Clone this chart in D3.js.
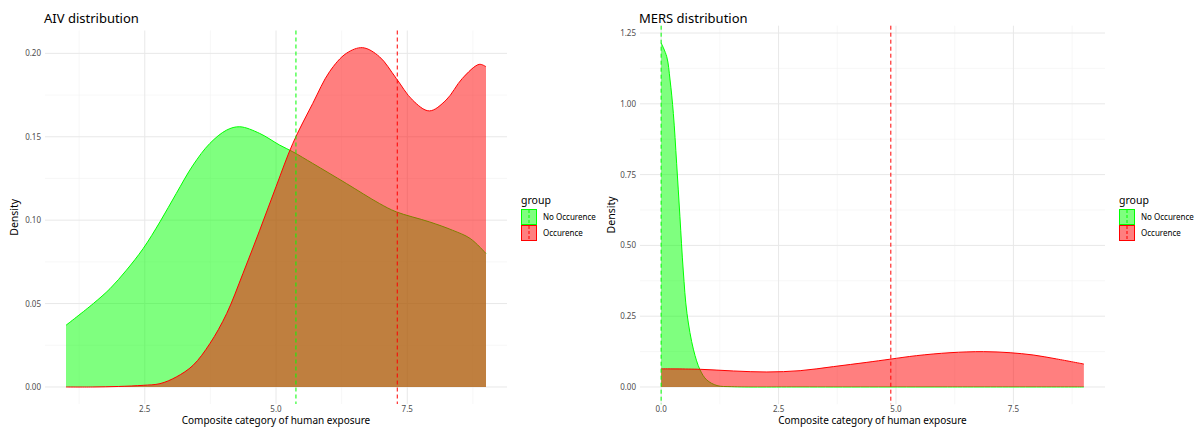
<!DOCTYPE html>
<html>
<head>
<meta charset="utf-8">
<script src="https://cdn.jsdelivr.net/npm/d3@7"></script>
<style>
  body { margin: 0; background: #fff; }
  svg { font-family: "Noto Sans", "Open Sans", sans-serif; }
</style>
</head>
<body>
<svg id="chart" width="1195" height="427"></svg>
<script>
// AIV densities
const aivX = [1, 1.52, 1.84, 2.15, 2.47, 2.79, 3.1, 3.42, 3.74, 4.06, 4.31, 4.69, 5.07, 5.32, 5.7, 6.34, 6.97, 7.29, 7.92, 8.36, 8.7, 9];
const aivNo = [0.037, 0.05, 0.059, 0.07, 0.083, 0.099, 0.116, 0.133, 0.146, 0.154, 0.156, 0.152, 0.145, 0.141, 0.134, 0.122, 0.11, 0.105, 0.099, 0.094, 0.089, 0.08];
const aivOccX = [1, 1.5, 2, 2.47, 2.79, 3.1, 3.42, 3.74, 4.06, 4.37, 4.69, 5.0, 5.32, 5.7, 6.02, 6.34, 6.65, 6.97, 7.29, 7.6, 7.92, 8.24, 8.55, 8.87, 9];
const aivOcc = [0, 0, 0.0003, 0.001, 0.002, 0.006, 0.013, 0.026, 0.044, 0.068, 0.094, 0.12, 0.146, 0.17, 0.189, 0.2, 0.2034, 0.198, 0.185, 0.172, 0.1655, 0.172, 0.185, 0.1934, 0.192];
const aivMeans = [5.38, 7.31];

// MERS densities
const mersNoX = [0, 0.12, 0.19, 0.26, 0.33, 0.4, 0.47, 0.55, 0.69, 0.83, 0.97, 1.19, 1.5, 3, 6, 9];
const mersNo = [1.215, 1.166, 1.084, 0.966, 0.79, 0.601, 0.413, 0.26, 0.131, 0.06, 0.025, 0.005, 0.001, 0, 0, 0];
const mersOccX = [0, 0.83, 1.54, 2.25, 2.96, 3.67, 4.38, 4.87, 5.44, 6.15, 6.86, 7.43, 7.92, 8.42, 9];
const mersOcc = [0.064, 0.0625, 0.0565, 0.053, 0.0576, 0.072, 0.087, 0.098, 0.1107, 0.121, 0.1248, 0.121, 0.113, 0.099, 0.081];
const mersMeans = [0.0, 4.89];

const groups = ["No Occurence", "Occurence"];
const colors = ["#00ff00", "#ff0000"];

const svg = d3.select("#chart");

function panel(opt) {
  const g = svg.append("g");
  const x = d3.scaleLinear().domain(opt.xDomain).range(opt.xRange);
  const y = d3.scaleLinear().domain(opt.yDomain).range(opt.yRange);
  const [x0, x1] = opt.xRange;
  const [yb, yt] = opt.yRange;

  // minor grid
  opt.xMinor.forEach(v => g.append("line").attr("x1", x(v)).attr("x2", x(v)).attr("y1", yt).attr("y2", yb)
    .attr("stroke", "#f2f2f2").attr("stroke-width", 0.6));
  opt.yMinor.forEach(v => g.append("line").attr("y1", y(v)).attr("y2", y(v)).attr("x1", x0).attr("x2", x1)
    .attr("stroke", "#f2f2f2").attr("stroke-width", 0.6));
  // major grid
  opt.xTicks.forEach(v => g.append("line").attr("x1", x(v)).attr("x2", x(v)).attr("y1", yt).attr("y2", yb)
    .attr("stroke", "#e8e8e8").attr("stroke-width", 1));
  opt.yTicks.forEach(v => g.append("line").attr("y1", y(v)).attr("y2", y(v)).attr("x1", x0).attr("x2", x1)
    .attr("stroke", "#e8e8e8").attr("stroke-width", 1));

  // densities: green first, red on top
  opt.series.forEach((s, i) => {
    const pts = s.x.map((v, j) => [v, s.d[j]]);
    const curve = d3.curveCatmullRom.alpha(0.5);
    const area = d3.area().x(d => x(d[0])).y0(y(0)).y1(d => y(Math.max(0, d[1]))).curve(curve);
    const line = d3.line().x(d => x(d[0])).y(d => y(d[1])).curve(curve);
    g.append("path").attr("d", area(pts)).attr("fill", colors[i]).attr("fill-opacity", 0.5);
    g.append("path").attr("d", line(pts)).attr("fill", "none").attr("stroke", colors[i]).attr("stroke-width", 1);
  });

  // mean lines
  opt.means.forEach((m, i) => {
    g.append("line").attr("x1", x(m)).attr("x2", x(m)).attr("y1", yt).attr("y2", yb)
      .attr("stroke", colors[i]).attr("stroke-width", 1).attr("stroke-dasharray", "4,3");
  });

  // tick labels
  g.selectAll(".xt").data(opt.xTicks).join("text")
    .attr("x", d => x(d)).attr("y", yb + 7.5).attr("text-anchor", "middle")
    .attr("font-size", 8).attr("fill", "#4d4d4d").text(d => d.toFixed(1));
  g.selectAll(".yt").data(opt.yTicks).join("text")
    .attr("x", x0 - 4).attr("y", d => y(d) + 3).attr("text-anchor", "end")
    .attr("font-size", 8).attr("fill", "#4d4d4d").text(d => d.toFixed(2));

  // titles
  g.append("text").attr("x", x0 - 1).attr("y", 23).attr("font-size", 13).attr("fill", "#000").text(opt.title);
  g.append("text").attr("x", (x0 + x1) / 2).attr("y", 424.3).attr("text-anchor", "middle")
    .attr("font-size", 10).attr("fill", "#000").text("Composite category of human exposure");
  g.append("text").attr("transform", `translate(${opt.yLabelX},${(yb + yt) / 2}) rotate(-90)`)
    .attr("text-anchor", "middle").attr("font-size", 10.5).attr("fill", "#000").text("Density");

  // legend
  const lx = opt.legendX;
  g.append("text").attr("x", lx).attr("y", 204).attr("font-size", 10.5).attr("fill", "#000").text("group");
  groups.forEach((name, i) => {
    const ky = 209 + i * 16;
    g.append("rect").attr("x", lx + 0.5).attr("y", ky + 0.5).attr("width", 15).attr("height", 15)
      .attr("fill", colors[i]).attr("fill-opacity", 0.5).attr("stroke", colors[i]).attr("stroke-width", 1);
    g.append("line").attr("x1", lx + 8).attr("x2", lx + 8).attr("y1", ky + 1).attr("y2", ky + 15)
      .attr("stroke", colors[i]).attr("stroke-width", 1).attr("stroke-dasharray", "3,2");
    g.append("text").attr("x", lx + 22).attr("y", ky + 11).attr("font-size", 8).attr("fill", "#000").text(name);
  });
}

panel({
  title: "AIV distribution",
  xDomain: [0.6, 9.4], xRange: [45, 507],
  yDomain: [-0.0102, 0.2137], yRange: [404, 30.5],
  xTicks: [2.5, 5, 7.5], xMinor: [1.25, 3.75, 6.25, 8.75],
  yTicks: [0, 0.05, 0.1, 0.15, 0.2], yMinor: [0.025, 0.075, 0.125, 0.175],
  series: [{ x: aivX, d: aivNo }, { x: aivOccX, d: aivOcc }],
  means: aivMeans,
  yLabelX: 18, legendX: 521
});

panel({
  title: "MERS distribution",
  xDomain: [-0.45, 9.45], xRange: [640, 1105],
  yDomain: [-0.0608, 1.2758], yRange: [404.2, 25.7],
  xTicks: [0, 2.5, 5, 7.5], xMinor: [1.25, 3.75, 6.25, 8.75],
  yTicks: [0, 0.25, 0.5, 0.75, 1, 1.25], yMinor: [0.125, 0.375, 0.625, 0.875, 1.125],
  series: [{ x: mersNoX, d: mersNo }, { x: mersOccX, d: mersOcc }],
  means: mersMeans,
  yLabelX: 615, legendX: 1119
});
</script>
</body>
</html>
